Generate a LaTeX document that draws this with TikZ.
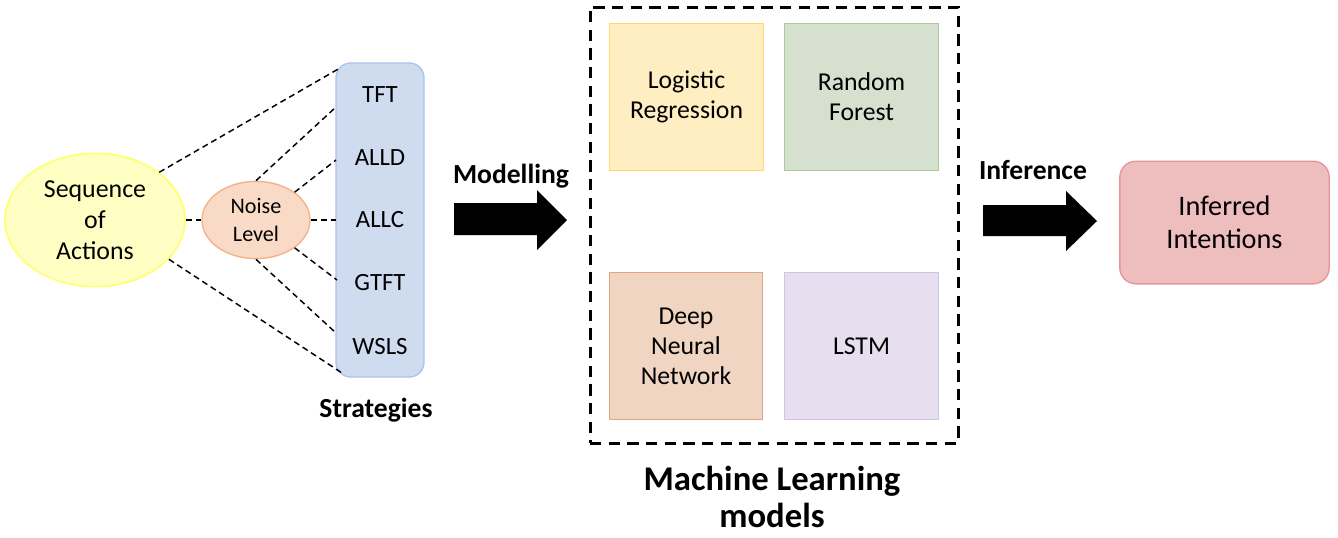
\documentclass[tikz,border=0pt]{standalone}
\usepackage{fontspec}
\setmainfont{Carlito}
\usetikzlibrary{shapes.geometric}

\definecolor{seqfill}{HTML}{FFFFC4}
\definecolor{seqline}{HTML}{FFFF73}
\definecolor{noisefill}{HTML}{F9DAC6}
\definecolor{noiseline}{HTML}{F4B183}
\definecolor{stratfill}{HTML}{CFDCF0}
\definecolor{stratline}{HTML}{A9C4EB}
\definecolor{lrfill}{HTML}{FFEEC2}
\definecolor{lrline}{HTML}{FFD966}
\definecolor{rffill}{HTML}{D6E0CE}
\definecolor{rfline}{HTML}{A9CB9A}
\definecolor{dnnfill}{HTML}{F0D5C2}
\definecolor{dnnline}{HTML}{E0A784}
\definecolor{lstmfill}{HTML}{E7DFF0}
\definecolor{lstmline}{HTML}{D2C2E6}
\definecolor{inffill}{HTML}{EEBEBE}
\definecolor{infline}{HTML}{E89494}

\begin{document}
\begin{tikzpicture}[x=0.75pt, y=-0.75pt,
  link/.style={line width=1.1pt, dash pattern=on 4.5pt off 3pt},
  label/.style={font=\fontsize{18.6}{22}\selectfont},
  title/.style={font=\bfseries\fontsize{20.7}{24}\selectfont},
  model/.style={draw, line width=0.9pt, minimum width=115pt, minimum height=110pt, align=center, font=\fontsize{19.3}{22.5}\selectfont}]
\useasboundingbox (0,0) rectangle (1338,537);

\node[draw=seqline, fill=seqfill, line width=1.3pt, ellipse, minimum width=135pt, minimum height=100pt, align=center, font=\fontsize{19.4}{23.2}\selectfont] (seq) at (95,220) {Sequence\\of\\Actions};
\node[draw=noiseline, fill=noisefill, line width=1pt, ellipse, minimum width=81pt, minimum height=58pt, inner sep=0pt, align=center, font=\fontsize{16.6}{21}\selectfont] (noise) at (256,220) {Noise\\Level};
\node[draw=stratline, fill=stratfill, line width=1pt, rounded corners=11pt, minimum width=66pt, minimum height=235.5pt] (strat) at (380,220) {};

\node[label] (tft) at (380,95) {TFT};
\node[label] (alld) at (380,158) {ALLD};
\node[label] (allc) at (380,220) {ALLC};
\node[label] (gtft) at (380,283) {GTFT};
\node[label] (wsls) at (380,347) {WSLS};
\node[title, anchor=base] (strategies) at (376,417) {Strategies};

\coordinate (top) at (340,68);
\coordinate (bottom) at (342,373);
\coordinate (e1) at (336,107);
\coordinate (e2) at (336,160);
\coordinate (e3) at (336,220);
\coordinate (e4) at (337,280);
\coordinate (e5) at (336,333);

\draw[link] (seq.north east) -- (top);
\draw[link] (seq.-28) -- (bottom);
\draw[link] (seq.east) -- (noise.west);
\draw[link] (noise.north) -- (e1);
\draw[link] (noise.north east) -- (e2);
\draw[link] (noise.east) -- (e3);
\draw[link] (noise.south east) -- (e4);
\draw[link] (noise.south) -- (e5);

\node[title, anchor=base] (modelling) at (511,183) {Modelling};
\fill (454,203) -- (537,203) -- (537,190) -- (567,220) -- (537,250) -- (537,235) -- (454,235) -- cycle;

\node[draw, line width=2.25pt, dash pattern=on 8.5pt off 5.5pt, minimum width=276pt, minimum height=327pt] (ml) at (774,225) {};
\node[model, draw=lrline, fill=lrfill] (lr) at (686.5,97) {Logistic\\Regression};
\node[model, draw=rfline, fill=rffill] (rf) at (861.5,97) {Random\\Forest};
\node[model, draw=dnnline, fill=dnnfill] (dnn) at (686,346) {Deep\\Neural\\Network};
\node[model, draw=lstmline, fill=lstmfill] (lstm) at (861.5,346) {LSTM};
\node[align=center, font=\bfseries\fontsize{26}{27.8}\selectfont] (mltitle) at (772,497) {Machine Learning\\models};

\node[title, anchor=base] (inference) at (1033,179) {Inference};
\fill (983,205) -- (1066,205) -- (1066,191) -- (1097,221) -- (1066,251) -- (1066,236) -- (983,236) -- cycle;

\node[draw=infline, fill=inffill, line width=1pt, rounded corners=12pt, minimum width=157pt, minimum height=92pt, align=center, font=\fontsize{21.2}{24.8}\selectfont] (intent) at (1224.5,222.5) {Inferred\\Intentions};
\end{tikzpicture}
\end{document}
